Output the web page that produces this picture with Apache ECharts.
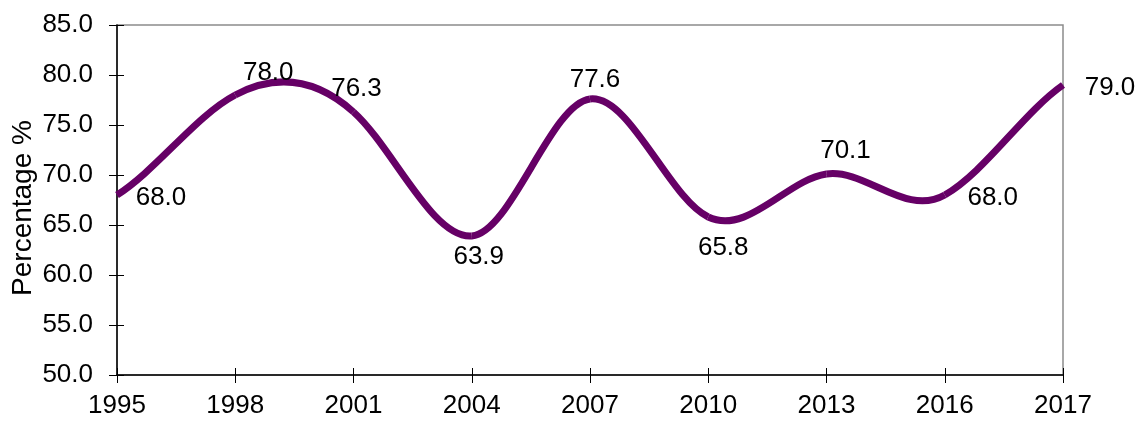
<!DOCTYPE html>
<html>
<head>
<meta charset="utf-8">
<script src="https://cdn.jsdelivr.net/npm/echarts@6/dist/echarts.min.js"></script>
<style>
html, body {margin:0; padding:0; background:#fff;}
#chart {width:1140px; height:423px;}
</style>
</head>
<body>
<div id="chart"></div>
<script type="text/javascript">
	// years on the category axis (equally spaced, as in the source)
	var years = ['1995', '1998', '2001', '2004', '2007', '2010', '2013', '2016', '2017'];
	var percent = [68.0, 78.0, 76.3, 63.9, 77.6, 65.8, 70.1, 68.0, 79.0];
	// where each value label sits relative to its point
	var labelOffsets = [[44, 3], [33, -22], [3, -23], [7, 21], [5, -19], [15, 31], [19, -23], [48, 3], [47, 3]];

	var dom = document.getElementById('chart');
	var myChart = echarts.init(dom);
	var font = 'Liberation Sans, Arial, sans-serif';
	var purple = '#660066';
	var tension = 0.25; // spreadsheet-style smoothing, overshoots a bit between points

	var points = percent.map(function (v, i) {
		return {value: v, label: {offset: labelOffsets[i]}};
	});
	var segData = percent.map(function (v, i) { return [i, v]; });

	// one bezier segment per pair of neighbouring points
	function renderSegment(params, api) {
		var i = params.dataIndex;
		var n = percent.length;
		if (i >= n - 1) return null;
		var a = Math.max(i - 1, 0), d = Math.min(i + 2, n - 1);
		var p0 = api.coord([a, percent[a]]);
		var p1 = api.coord([i, percent[i]]);
		var p2 = api.coord([i + 1, percent[i + 1]]);
		var p3 = api.coord([d, percent[d]]);
		var w = (p2[0] - p1[0]) / 3;
		return {
			type: 'bezierCurve',
			shape: {
				x1: p1[0], y1: p1[1], x2: p2[0], y2: p2[1],
				cpx1: p1[0] + w,
				cpy1: p1[1] + (p2[1] - p0[1]) * tension,
				cpx2: p2[0] - w,
				cpy2: p2[1] - (p3[1] - p1[1]) * tension
			},
			style: {stroke: purple, lineWidth: 7, fill: null, lineCap: 'butt'}
		};
	}

	var tickStyle = {color: '#000', width: 1};

	var option = {
		animation: false,
		grid: {
			left: 117, right: 77, top: 25, bottom: 48,
			outerBoundsMode: 'none',
			show: true, borderColor: '#8c8c8c', borderWidth: 1.5
		},
		xAxis: [{
			type: 'category',
			data: years,
			boundaryGap: false,
			position: 'bottom',
			axisLine: {lineStyle: {color: '#000', width: 1.5}},
			axisTick: {show: true, length: 8, lineStyle: tickStyle},
			axisLabel: {color: '#000', fontSize: 26, fontFamily: font, margin: 18},
			splitLine: {show: false}
		}, {
			// inner half of the crossing ticks
			type: 'category',
			data: years,
			boundaryGap: false,
			position: 'bottom',
			axisLine: {show: false},
			axisTick: {show: true, inside: true, length: 7, lineStyle: tickStyle},
			axisLabel: {show: false},
			splitLine: {show: false}
		}],
		yAxis: [{
			type: 'value',
			min: 50, max: 85, interval: 5,
			position: 'left',
			name: 'Percentage %',
			nameLocation: 'middle',
			nameGap: 80,
			nameMoveOverlap: false,
			nameTextStyle: {color: '#000', fontSize: 28, fontFamily: font, padding: [0, 16, 0, 0]},
			axisLine: {show: true, lineStyle: {color: '#000', width: 1.5}},
			axisTick: {show: true, length: 8, lineStyle: tickStyle},
			axisLabel: {
				color: '#000', fontSize: 26, fontFamily: font, margin: 24,
				formatter: function (v) { return v.toFixed(1); }
			},
			splitLine: {show: false}
		}, {
			type: 'value',
			min: 50, max: 85, interval: 5,
			position: 'left',
			axisLine: {show: false},
			axisTick: {show: true, inside: true, length: 7, lineStyle: tickStyle},
			axisLabel: {show: false},
			splitLine: {show: false}
		}],
		series: [{
			type: 'custom',
			data: segData,
			clip: false,
			renderItem: renderSegment,
			z: 2
		}, {
			type: 'line',
			data: points,
			symbol: 'circle',
			symbolSize: 1,
			itemStyle: {color: purple},
			lineStyle: {width: 0, opacity: 0},
			z: 3,
			label: {
				show: true,
				position: 'inside',
				color: '#000',
				fontSize: 26,
				fontFamily: font,
				formatter: function (p) { return p.value.toFixed(1); }
			}
		}]
	};
	myChart.setOption(option, true);
</script>
</body>
</html>
